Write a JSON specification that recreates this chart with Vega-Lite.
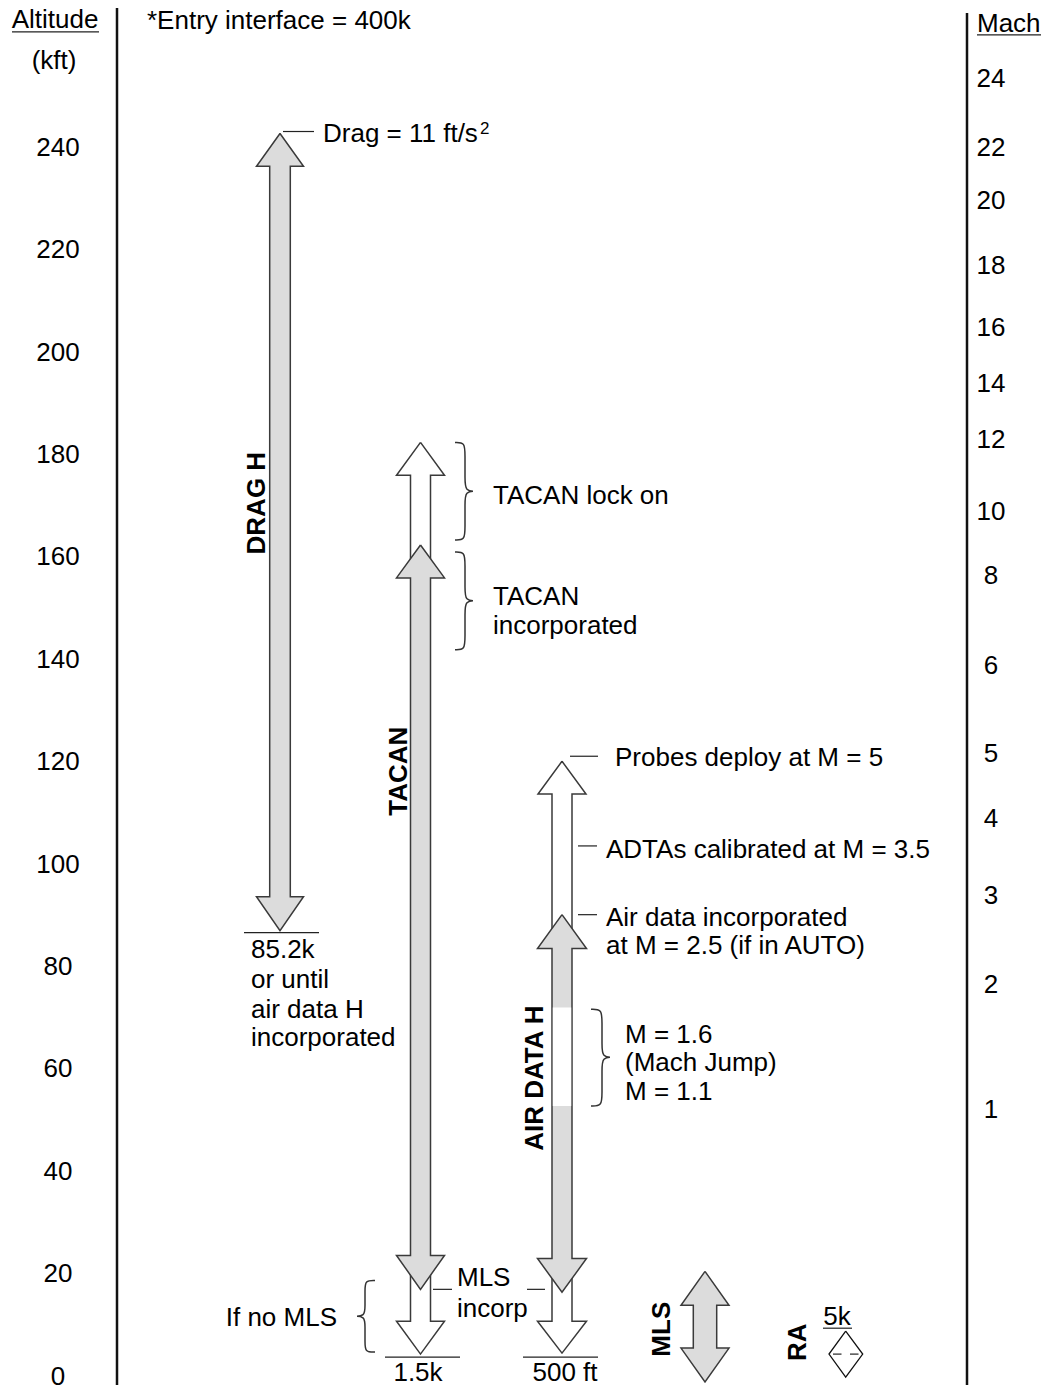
{
  "$schema": "https://vega.github.io/schema/vega-lite/v6.json",
  "width": 1048,
  "height": 1390,
  "autosize": {"type": "fit", "contains": "padding"},
  "padding": 0,
  "background": "#ffffff",
  "config": {
    "view": {"stroke": null},
    "text": {"font": "Liberation Sans", "fontSize": 26, "color": "#000000"}
  },
  "datasets": {
    "shapes": [
      {"shape": "TACAN lock on", "state": "open", "i": 1, "x": 420.5, "alt": 182.19},
      {"shape": "TACAN lock on", "state": "open", "i": 2, "x": 444.5, "alt": 175.77},
      {"shape": "TACAN lock on", "state": "open", "i": 3, "x": 430.5, "alt": 175.77},
      {"shape": "TACAN lock on", "state": "open", "i": 4, "x": 430.5, "alt": 157.66},
      {"shape": "TACAN lock on", "state": "open", "i": 5, "x": 410.5, "alt": 157.66},
      {"shape": "TACAN lock on", "state": "open", "i": 6, "x": 410.5, "alt": 175.77},
      {"shape": "TACAN lock on", "state": "open", "i": 7, "x": 396.5, "alt": 175.77},
      {"shape": "TACAN lock on", "state": "open", "i": 8, "x": 420.5, "alt": 182.19},

      {"shape": "TACAN no MLS", "state": "open", "i": 1, "x": 410.5, "alt": 20.44},
      {"shape": "TACAN no MLS", "state": "open", "i": 2, "x": 430.5, "alt": 20.44},
      {"shape": "TACAN no MLS", "state": "open", "i": 3, "x": 430.5, "alt": 10.51},
      {"shape": "TACAN no MLS", "state": "open", "i": 4, "x": 444.5, "alt": 10.51},
      {"shape": "TACAN no MLS", "state": "open", "i": 5, "x": 420.5, "alt": 4.09},
      {"shape": "TACAN no MLS", "state": "open", "i": 6, "x": 396.5, "alt": 10.51},
      {"shape": "TACAN no MLS", "state": "open", "i": 7, "x": 410.5, "alt": 10.51},
      {"shape": "TACAN no MLS", "state": "open", "i": 8, "x": 410.5, "alt": 20.44},

      {"shape": "Probes", "state": "open", "i": 1, "x": 562, "alt": 119.9},
      {"shape": "Probes", "state": "open", "i": 2, "x": 586, "alt": 113.48},
      {"shape": "Probes", "state": "open", "i": 3, "x": 572, "alt": 113.48},
      {"shape": "Probes", "state": "open", "i": 4, "x": 572, "alt": 86.62},
      {"shape": "Probes", "state": "open", "i": 5, "x": 552, "alt": 86.62},
      {"shape": "Probes", "state": "open", "i": 6, "x": 552, "alt": 113.48},
      {"shape": "Probes", "state": "open", "i": 7, "x": 538, "alt": 113.48},
      {"shape": "Probes", "state": "open", "i": 8, "x": 562, "alt": 119.9},

      {"shape": "Air no MLS", "state": "open", "i": 1, "x": 552, "alt": 19.85},
      {"shape": "Air no MLS", "state": "open", "i": 2, "x": 572, "alt": 19.85},
      {"shape": "Air no MLS", "state": "open", "i": 3, "x": 572, "alt": 10.51},
      {"shape": "Air no MLS", "state": "open", "i": 4, "x": 586.5, "alt": 10.51},
      {"shape": "Air no MLS", "state": "open", "i": 5, "x": 562, "alt": 4.28},
      {"shape": "Air no MLS", "state": "open", "i": 6, "x": 537.5, "alt": 10.51},
      {"shape": "Air no MLS", "state": "open", "i": 7, "x": 552, "alt": 10.51},
      {"shape": "Air no MLS", "state": "open", "i": 8, "x": 552, "alt": 19.85},

      {"shape": "DRAG H", "state": "incorporated", "i": 1, "x": 280, "alt": 242.53},
      {"shape": "DRAG H", "state": "incorporated", "i": 2, "x": 303.5, "alt": 236.11},
      {"shape": "DRAG H", "state": "incorporated", "i": 3, "x": 290.3, "alt": 236.11},
      {"shape": "DRAG H", "state": "incorporated", "i": 4, "x": 290.3, "alt": 93.43},
      {"shape": "DRAG H", "state": "incorporated", "i": 5, "x": 303.5, "alt": 93.43},
      {"shape": "DRAG H", "state": "incorporated", "i": 6, "x": 280, "alt": 86.81},
      {"shape": "DRAG H", "state": "incorporated", "i": 7, "x": 256.5, "alt": 93.43},
      {"shape": "DRAG H", "state": "incorporated", "i": 8, "x": 269.7, "alt": 93.43},
      {"shape": "DRAG H", "state": "incorporated", "i": 9, "x": 269.7, "alt": 236.11},
      {"shape": "DRAG H", "state": "incorporated", "i": 10, "x": 256.5, "alt": 236.11},
      {"shape": "DRAG H", "state": "incorporated", "i": 11, "x": 280, "alt": 242.53},

      {"shape": "TACAN", "state": "incorporated", "i": 1, "x": 420.5, "alt": 162.14},
      {"shape": "TACAN", "state": "incorporated", "i": 2, "x": 444.5, "alt": 155.72},
      {"shape": "TACAN", "state": "incorporated", "i": 3, "x": 430.5, "alt": 155.72},
      {"shape": "TACAN", "state": "incorporated", "i": 4, "x": 430.5, "alt": 23.36},
      {"shape": "TACAN", "state": "incorporated", "i": 5, "x": 444.5, "alt": 23.36},
      {"shape": "TACAN", "state": "incorporated", "i": 6, "x": 420.5, "alt": 16.74},
      {"shape": "TACAN", "state": "incorporated", "i": 7, "x": 396.5, "alt": 23.36},
      {"shape": "TACAN", "state": "incorporated", "i": 8, "x": 410.5, "alt": 23.36},
      {"shape": "TACAN", "state": "incorporated", "i": 9, "x": 410.5, "alt": 155.72},
      {"shape": "TACAN", "state": "incorporated", "i": 10, "x": 396.5, "alt": 155.72},
      {"shape": "TACAN", "state": "incorporated", "i": 11, "x": 420.5, "alt": 162.14},

      {"shape": "AIR DATA H", "state": "incorporated", "i": 1, "x": 562, "alt": 89.93},
      {"shape": "AIR DATA H", "state": "incorporated", "i": 2, "x": 586.5, "alt": 83.31},
      {"shape": "AIR DATA H", "state": "incorporated", "i": 3, "x": 572, "alt": 83.31},
      {"shape": "AIR DATA H", "state": "incorporated", "i": 4, "x": 572, "alt": 22.77},
      {"shape": "AIR DATA H", "state": "incorporated", "i": 5, "x": 586.5, "alt": 22.77},
      {"shape": "AIR DATA H", "state": "incorporated", "i": 6, "x": 562, "alt": 16.16},
      {"shape": "AIR DATA H", "state": "incorporated", "i": 7, "x": 537.5, "alt": 22.77},
      {"shape": "AIR DATA H", "state": "incorporated", "i": 8, "x": 552, "alt": 22.77},
      {"shape": "AIR DATA H", "state": "incorporated", "i": 9, "x": 552, "alt": 83.31},
      {"shape": "AIR DATA H", "state": "incorporated", "i": 10, "x": 537.5, "alt": 83.31},
      {"shape": "AIR DATA H", "state": "incorporated", "i": 11, "x": 562, "alt": 89.93},

      {"shape": "MLS", "state": "incorporated", "i": 1, "x": 705, "alt": 20.24},
      {"shape": "MLS", "state": "incorporated", "i": 2, "x": 729, "alt": 13.63},
      {"shape": "MLS", "state": "incorporated", "i": 3, "x": 716.7, "alt": 13.63},
      {"shape": "MLS", "state": "incorporated", "i": 4, "x": 716.7, "alt": 5.26},
      {"shape": "MLS", "state": "incorporated", "i": 5, "x": 729, "alt": 5.26},
      {"shape": "MLS", "state": "incorporated", "i": 6, "x": 705, "alt": -1.36},
      {"shape": "MLS", "state": "incorporated", "i": 7, "x": 681, "alt": 5.26},
      {"shape": "MLS", "state": "incorporated", "i": 8, "x": 693.3, "alt": 5.26},
      {"shape": "MLS", "state": "incorporated", "i": 9, "x": 693.3, "alt": 13.63},
      {"shape": "MLS", "state": "incorporated", "i": 10, "x": 681, "alt": 13.63},
      {"shape": "MLS", "state": "incorporated", "i": 11, "x": 705, "alt": 20.24},

      {"shape": "RA", "state": "open", "i": 1, "x": 845.7, "alt": 8.56},
      {"shape": "RA", "state": "open", "i": 2, "x": 862.7, "alt": 4.09},
      {"shape": "RA", "state": "open", "i": 3, "x": 845.7, "alt": -0.39},
      {"shape": "RA", "state": "open", "i": 4, "x": 829, "alt": 4.09},
      {"shape": "RA", "state": "open", "i": 5, "x": 845.7, "alt": 8.56}
    ],
    "gaps": [
      {"segment": "Mach jump", "x": 552.8, "x2": 571.2, "alt": 71.82, "alt2": 52.55}
    ],
    "braces": [
      {"brace": "lock on", "i": 1, "x": 455, "alt": 182.19},
      {"brace": "lock on", "i": 2, "x": 465, "alt": 182.19},
      {"brace": "lock on", "i": 3, "x": 465, "alt": 179.85},
      {"brace": "lock on", "i": 4, "x": 465, "alt": 174.99},
      {"brace": "lock on", "i": 5, "x": 465, "alt": 172.65},
      {"brace": "lock on", "i": 6, "x": 477, "alt": 172.65},
      {"brace": "lock on", "i": 7, "x": 465, "alt": 172.65},
      {"brace": "lock on", "i": 8, "x": 465, "alt": 170.32},
      {"brace": "lock on", "i": 9, "x": 465, "alt": 165.45},
      {"brace": "lock on", "i": 10, "x": 465, "alt": 163.11},
      {"brace": "lock on", "i": 11, "x": 455, "alt": 163.11},

      {"brace": "incorporated", "i": 1, "x": 455, "alt": 160.78},
      {"brace": "incorporated", "i": 2, "x": 465, "alt": 160.78},
      {"brace": "incorporated", "i": 3, "x": 465, "alt": 158.44},
      {"brace": "incorporated", "i": 4, "x": 465, "alt": 153.58},
      {"brace": "incorporated", "i": 5, "x": 465, "alt": 151.24},
      {"brace": "incorporated", "i": 6, "x": 477, "alt": 151.24},
      {"brace": "incorporated", "i": 7, "x": 465, "alt": 151.24},
      {"brace": "incorporated", "i": 8, "x": 465, "alt": 148.91},
      {"brace": "incorporated", "i": 9, "x": 465, "alt": 144.04},
      {"brace": "incorporated", "i": 10, "x": 465, "alt": 141.7},
      {"brace": "incorporated", "i": 11, "x": 455, "alt": 141.7},

      {"brace": "mach jump", "i": 1, "x": 591, "alt": 71.44},
      {"brace": "mach jump", "i": 2, "x": 602, "alt": 71.44},
      {"brace": "mach jump", "i": 3, "x": 602, "alt": 69.1},
      {"brace": "mach jump", "i": 4, "x": 602, "alt": 64.43},
      {"brace": "mach jump", "i": 5, "x": 602, "alt": 62.09},
      {"brace": "mach jump", "i": 6, "x": 614, "alt": 62.09},
      {"brace": "mach jump", "i": 7, "x": 602, "alt": 62.09},
      {"brace": "mach jump", "i": 8, "x": 602, "alt": 59.76},
      {"brace": "mach jump", "i": 9, "x": 602, "alt": 54.89},
      {"brace": "mach jump", "i": 10, "x": 602, "alt": 52.55},
      {"brace": "mach jump", "i": 11, "x": 591, "alt": 52.55},

      {"brace": "no MLS", "i": 1, "x": 375, "alt": 18.49},
      {"brace": "no MLS", "i": 2, "x": 365, "alt": 18.49},
      {"brace": "no MLS", "i": 3, "x": 365, "alt": 16.55},
      {"brace": "no MLS", "i": 4, "x": 365, "alt": 13.43},
      {"brace": "no MLS", "i": 5, "x": 365, "alt": 11.48},
      {"brace": "no MLS", "i": 6, "x": 353, "alt": 11.48},
      {"brace": "no MLS", "i": 7, "x": 365, "alt": 11.48},
      {"brace": "no MLS", "i": 8, "x": 365, "alt": 9.54},
      {"brace": "no MLS", "i": 9, "x": 365, "alt": 6.42},
      {"brace": "no MLS", "i": 10, "x": 365, "alt": 4.48},
      {"brace": "no MLS", "i": 11, "x": 375, "alt": 4.48}
    ],
    "frame": [
      {"line": "altitude scale", "x": 117, "x2": 117, "alt": 267.06, "alt2": -1.946},
      {"line": "mach scale", "x": 967, "x2": 967, "alt": 266.08, "alt2": -1.946}
    ],
    "leaders": [
      {"line": "drag", "x": 283, "x2": 314, "alt": 242.92, "alt2": 242.92},
      {"line": "85.2k", "x": 244, "x2": 319, "alt": 86.42, "alt2": 86.42},
      {"line": "1.5k", "x": 385, "x2": 460, "alt": 3.5, "alt2": 3.5},
      {"line": "500 ft", "x": 523, "x2": 598, "alt": 3.5, "alt2": 3.5},
      {"line": "probes", "x": 570, "x2": 598, "alt": 120.88, "alt2": 120.88},
      {"line": "ADTAs", "x": 578, "x2": 597, "alt": 103.36, "alt2": 103.36},
      {"line": "air data", "x": 578, "x2": 597, "alt": 89.93, "alt2": 89.93},
      {"line": "MLS incorp a", "x": 433, "x2": 452, "alt": 16.74, "alt2": 16.74},
      {"line": "MLS incorp b", "x": 527, "x2": 545, "alt": 16.74, "alt2": 16.74},
      {"line": "RA dash a", "x": 833, "x2": 841.5, "alt": 4.09, "alt2": 4.09},
      {"line": "RA dash b", "x": 850, "x2": 858.5, "alt": 4.09, "alt2": 4.09},
      {"line": "5k underline", "x": 823, "x2": 852, "alt": 9.15, "alt2": 9.15},
      {"line": "Altitude underline", "x": 12, "x2": 99, "alt": 262.38, "alt2": 262.38},
      {"line": "Mach underline", "x": 977, "x2": 1041, "alt": 261.8, "alt2": 261.8}
    ],
    "textLeft": [
      {"text": "*Entry interface = 400k", "x": 147, "alt": 264.72},
      {"text": "Drag = 11 ft/s", "x": 323, "alt": 242.63},
      {"text": "85.2k", "x": 251, "alt": 83.31},
      {"text": "or until", "x": 251, "alt": 77.47},
      {"text": "air data H", "x": 251, "alt": 71.63},
      {"text": "incorporated", "x": 251, "alt": 66.18},
      {"text": "TACAN lock on", "x": 493, "alt": 172.07},
      {"text": "TACAN", "x": 493, "alt": 152.21},
      {"text": "incorporated", "x": 493, "alt": 146.57},
      {"text": "Probes deploy at M = 5", "x": 615, "alt": 120.88},
      {"text": "ADTAs calibrated at M = 3.5", "x": 606, "alt": 102.77},
      {"text": "Air data incorporated", "x": 606, "alt": 89.54},
      {"text": "at M = 2.5 (if in AUTO)", "x": 606, "alt": 84.09},
      {"text": "M = 1.6", "x": 625, "alt": 66.76},
      {"text": "(Mach Jump)", "x": 625, "alt": 61.31},
      {"text": "M = 1.1", "x": 625, "alt": 55.67},
      {"text": "MLS", "x": 457, "alt": 19.27},
      {"text": "incorp", "x": 457, "alt": 13.24},
      {"text": "Mach", "x": 977, "alt": 264.23}
    ],
    "textCenter": [
      {"text": "Altitude", "x": 55, "alt": 264.91},
      {"text": "(kft)", "x": 54, "alt": 256.93},
      {"text": "0", "x": 58, "alt": 0},
      {"text": "20", "x": 58, "alt": 20},
      {"text": "40", "x": 58, "alt": 40},
      {"text": "60", "x": 58, "alt": 60},
      {"text": "80", "x": 58, "alt": 80},
      {"text": "100", "x": 58, "alt": 100},
      {"text": "120", "x": 58, "alt": 120},
      {"text": "140", "x": 58, "alt": 140},
      {"text": "160", "x": 58, "alt": 160},
      {"text": "180", "x": 58, "alt": 180},
      {"text": "200", "x": 58, "alt": 200},
      {"text": "220", "x": 58, "alt": 220},
      {"text": "240", "x": 58, "alt": 240},
      {"text": "24", "x": 991, "alt": 253.43},
      {"text": "22", "x": 991, "alt": 240.0},
      {"text": "20", "x": 991, "alt": 229.68},
      {"text": "18", "x": 991, "alt": 217.03},
      {"text": "16", "x": 991, "alt": 204.77},
      {"text": "14", "x": 991, "alt": 193.87},
      {"text": "12", "x": 991, "alt": 182.97},
      {"text": "10", "x": 991, "alt": 168.95},
      {"text": "8", "x": 991, "alt": 156.3},
      {"text": "6", "x": 991, "alt": 138.78},
      {"text": "5", "x": 991, "alt": 121.65},
      {"text": "4", "x": 991, "alt": 109.0},
      {"text": "3", "x": 991, "alt": 93.82},
      {"text": "2", "x": 991, "alt": 76.5},
      {"text": "1", "x": 991, "alt": 51.97},
      {"text": "1.5k", "x": 418, "alt": 0.78},
      {"text": "500  ft", "x": 565, "alt": 0.78},
      {"text": "5k", "x": 837, "alt": 11.68}
    ],
    "textRight": [
      {"text": "If no MLS", "x": 337, "alt": 11.48}
    ],
    "textVertical": [
      {"text": "DRAG H", "x": 256.5, "alt": 170.32},
      {"text": "TACAN", "x": 399, "alt": 117.96},
      {"text": "AIR DATA H", "x": 534.5, "alt": 58.0},
      {"text": "MLS", "x": 662, "alt": 8.95},
      {"text": "RA", "x": 798, "alt": 6.42}
    ],
    "superscript": [
      {"text": "2", "x": 480, "alt": 243.5}
    ]
  },
  "encoding": {
    "x": {"field": "x", "type": "quantitative", "scale": {"domain": [0, 1048], "nice": false, "zero": false}, "axis": null},
    "y": {"field": "alt", "type": "quantitative", "scale": {"domain": [-1.946, 268.61], "nice": false, "zero": false}, "axis": null}
  },
  "layer": [
    {
      "data": {"name": "shapes"},
      "transform": [{"filter": "datum.state === 'open' && datum.shape !== 'RA'"}],
      "mark": {"type": "line", "fill": "#ffffff", "stroke": "#3a3a3a", "strokeWidth": 1.5, "strokeJoin": "miter"},
      "encoding": {
        "order": {"field": "i", "type": "quantitative"},
        "detail": {"field": "shape", "type": "nominal"}
      }
    },
    {
      "data": {"name": "shapes"},
      "transform": [{"filter": "datum.state === 'incorporated'"}],
      "mark": {"type": "line", "fill": "#dcdcdc", "stroke": "#3a3a3a", "strokeWidth": 1.5, "strokeJoin": "miter"},
      "encoding": {
        "order": {"field": "i", "type": "quantitative"},
        "detail": {"field": "shape", "type": "nominal"}
      }
    },
    {
      "data": {"name": "shapes"},
      "transform": [{"filter": "datum.shape === 'RA'"}],
      "mark": {"type": "line", "fill": "#ffffff", "stroke": "#111111", "strokeWidth": 1.3, "strokeJoin": "miter"},
      "encoding": {
        "order": {"field": "i", "type": "quantitative"},
        "detail": {"field": "shape", "type": "nominal"}
      }
    },
    {
      "data": {"name": "gaps"},
      "mark": {"type": "rect", "fill": "#ffffff", "strokeWidth": 0},
      "encoding": {
        "x2": {"field": "x2"},
        "y2": {"field": "alt2"}
      }
    },
    {
      "data": {"name": "braces"},
      "mark": {"type": "line", "interpolate": "basis", "stroke": "#333333", "strokeWidth": 1.5},
      "encoding": {
        "order": {"field": "i", "type": "quantitative"},
        "detail": {"field": "brace", "type": "nominal"}
      }
    },
    {
      "data": {"name": "frame"},
      "mark": {"type": "rule", "stroke": "#111111", "strokeWidth": 2.5},
      "encoding": {
        "x2": {"field": "x2"},
        "y2": {"field": "alt2"}
      }
    },
    {
      "data": {"name": "leaders"},
      "mark": {"type": "rule", "stroke": "#222222", "strokeWidth": 1.2},
      "encoding": {
        "x2": {"field": "x2"},
        "y2": {"field": "alt2"}
      }
    },
    {
      "data": {"name": "textLeft"},
      "mark": {"type": "text", "align": "left", "baseline": "middle", "dy": 1.5},
      "encoding": {"text": {"field": "text"}}
    },
    {
      "data": {"name": "textCenter"},
      "mark": {"type": "text", "align": "center", "baseline": "middle", "dy": 1.5},
      "encoding": {"text": {"field": "text"}}
    },
    {
      "data": {"name": "textRight"},
      "mark": {"type": "text", "align": "right", "baseline": "middle", "dy": 1.5},
      "encoding": {"text": {"field": "text"}}
    },
    {
      "data": {"name": "textVertical"},
      "mark": {"type": "text", "align": "center", "baseline": "middle", "angle": 270, "fontWeight": "bold"},
      "encoding": {"text": {"field": "text"}}
    },
    {
      "data": {"name": "superscript"},
      "mark": {"type": "text", "align": "left", "baseline": "middle", "fontSize": 17},
      "encoding": {"text": {"field": "text"}}
    }
  ]
}
